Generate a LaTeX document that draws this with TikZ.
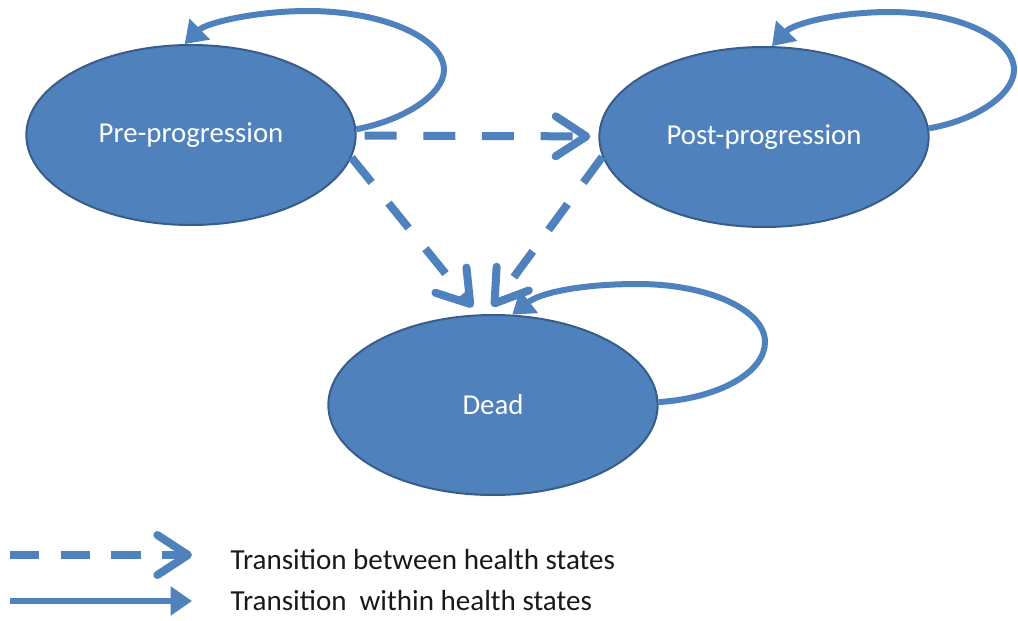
\documentclass[tikz,border=0pt]{standalone}
\usepackage{fontspec}
\setmainfont{Carlito}
\usepackage{tikz}
\usetikzlibrary{positioning}
\usetikzlibrary{shapes.geometric}
\usetikzlibrary{arrows.meta}
\definecolor{stateblue}{HTML}{4F81BD}
\definecolor{stateedge}{HTML}{385D8A}

\begin{document}
\begin{tikzpicture}[x=0.75pt, y=-0.75pt,
        state/.style = {ellipse, draw=stateedge, line width=1.5pt, fill=stateblue, text=white,
          minimum width=247pt, minimum height=135pt, inner sep=0pt, font=\fontsize{21.6}{26}\selectfont},
        between/.style = {draw=stateblue, line width=6pt, dash pattern=on 24pt off 20pt,
          -{Straight Barb[length=23pt, width=30pt, line cap=round, line join=round]}},
        within/.style = {draw=stateblue, line width=4.5pt, -{Triangle[length=16pt, width=21pt]}},
        legend/.style = {anchor=west, text=black!90, font=\fontsize{21.8}{26}\selectfont}
        ]
        \useasboundingbox (0,0) rectangle (1018,621);
        \node[state] (pre) at (191,135) {Pre-progression};
        \node[state] (post) at (764,137) {Post-progression};
        \node[state] (dead) at (493,405) {Dead};
        % transitions between states
        \draw[between, shorten <=6pt, shorten >=6pt] (pre) -- (post);
        \draw[between, shorten >=7pt] (pre.-8) -- (dead.99);
        \draw[between, shorten >=7pt] (post.187) -- (dead.94);
        % staying in a state
        \draw[within] (pre.2) .. controls (405,120) and (444,94) .. (444,70)
          .. controls (444,38) and (383,11) .. (308,11)
          .. controls (255,11) and (206,23) .. (pre.94);
        \draw[within] (post.3) .. controls (977,120) and (1014,94) .. (1014,70)
          .. controls (1014,38) and (958,12) .. (890,12)
          .. controls (840,12) and (794,23) .. (post.85);
        \draw[within] (dead.1) .. controls (720,398) and (765,372) .. (765,342)
          .. controls (765,310) and (708,284) .. (638,284)
          .. controls (580,284) and (540,293) .. (dead.78);
        % legend
        \coordinate (b1) at (10,555);
        \coordinate (b2) at (192,555);
        \coordinate (w1) at (10,601);
        \coordinate (w2) at (192,601);
        \draw[between, dash pattern=on 22pt off 16pt] (b1) -- (b2);
        \draw[within] (w1) -- (w2);
        \node[legend] (between) at (226,560) {Transition between health states};
        \node[legend] (within) at (226,601) {Transition\ \ within health states};
\end{tikzpicture}
\end{document}
